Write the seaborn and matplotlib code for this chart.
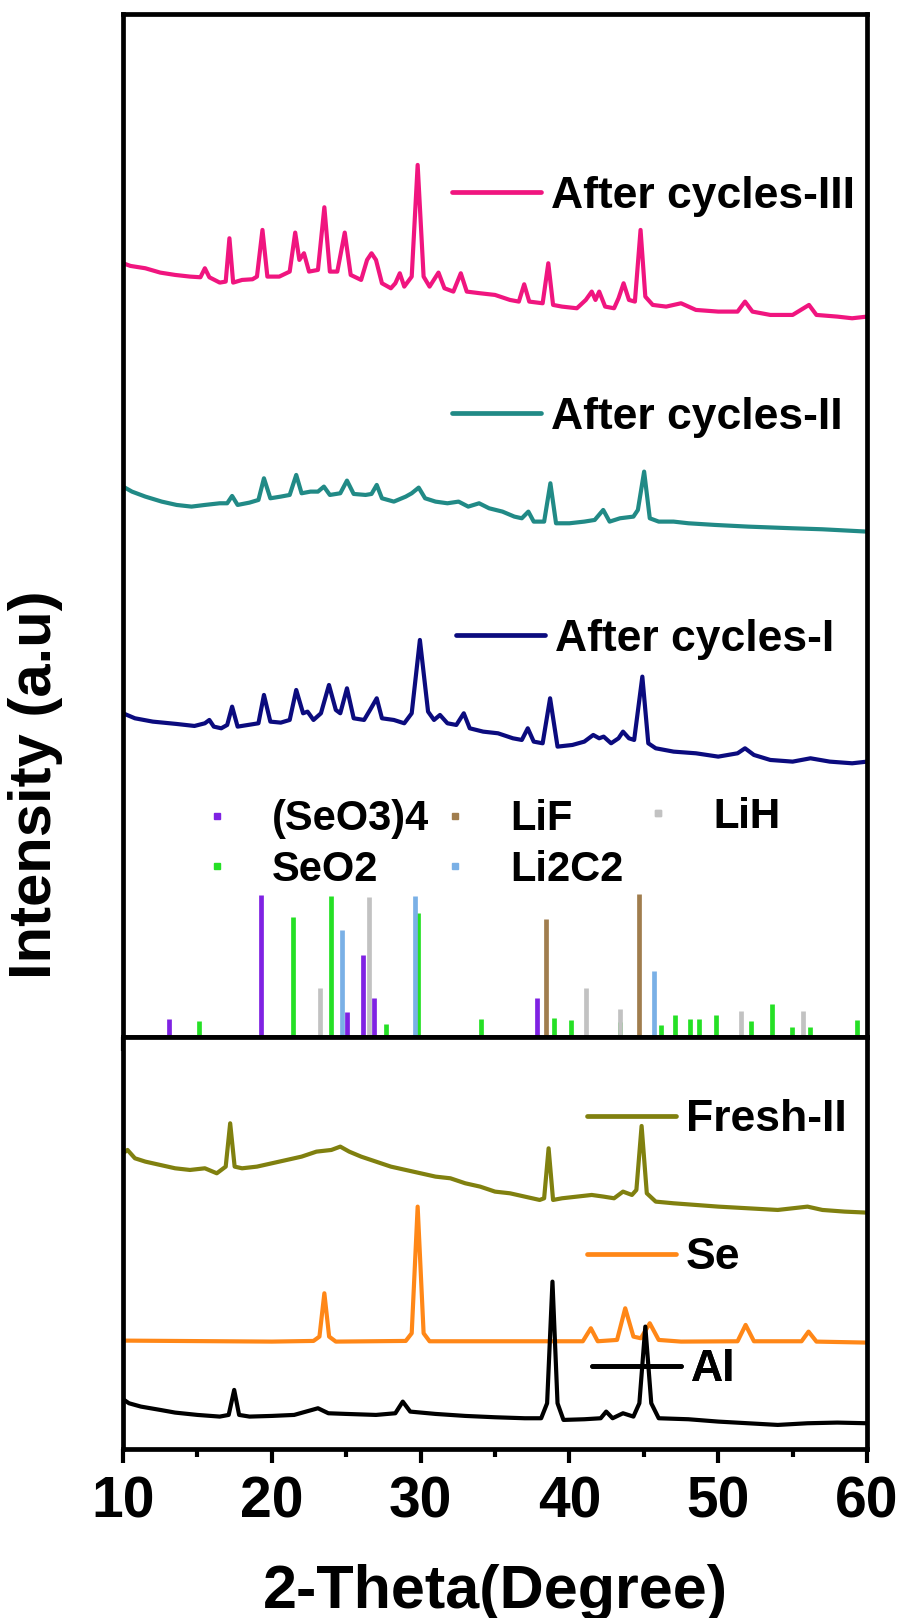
import numpy as np
import pandas as pd
import seaborn as sns
from matplotlib import pyplot as plt
from matplotlib.lines import Line2D
from matplotlib.ticker import MultipleLocator

# ---- data (2-theta in degrees, intensity in a.u.) ----
III_X = [10.0, 10.5, 11.5, 12.5, 13.5, 14.5, 15.2, 15.5, 15.8, 16.5, 16.9, 17.15, 17.4, 18.0, 18.7, 19.0,
         19.37, 19.7, 20.5, 21.2, 21.57, 21.85, 22.16, 22.5, 23.1, 23.53, 23.9, 24.4, 24.9, 25.3, 26.0, 26.4,
         26.7, 27.0, 27.4, 28.0, 28.3, 28.6, 28.9, 29.4, 29.8, 30.2, 30.6, 31.2, 31.6, 32.2, 32.7, 33.1, 34.0,
         35.0, 36.0, 36.6, 36.96, 37.3, 38.2, 38.58, 38.9, 39.5, 40.5, 41.1, 41.5, 41.75, 42.0, 42.4, 43.0,
         43.3, 43.64, 44.0, 44.4, 44.78, 45.1, 45.6, 46.5, 47.5, 48.5, 50.0, 51.3, 51.8, 52.3, 53.5, 55.0,
         56.1, 56.6, 58.0, 59.0, 60.0]
III_Y = [170, 162, 155, 142, 135, 130, 128, 155, 128, 112, 115, 245, 112, 120, 122, 130,
         270, 130, 130, 145, 262, 180, 200, 145, 150, 338, 145, 145, 262, 135, 120, 180,
         200, 180, 110, 95, 110, 140, 100, 130, 465, 130, 100, 142, 95, 85, 140, 85, 80,
         75, 60, 55, 107, 55, 50, 170, 45, 40, 35, 60, 85, 60, 85, 40, 35,
         65, 110, 60, 55, 270, 70, 45, 40, 50, 30, 25, 25, 55, 25, 15, 15,
         45, 15, 10, 5, 10]

II_X = [10.0, 10.6, 11.5, 12.6, 13.6, 14.6, 15.5, 16.5, 17.0, 17.33, 17.7, 18.5, 19.1, 19.47, 19.9, 20.6,
        21.2, 21.64, 22.0, 22.6, 23.1, 23.5, 23.9, 24.6, 25.05, 25.5, 26.3, 26.7, 27.05, 27.4, 28.2, 29.0,
        29.4, 29.87, 30.3, 31.0, 31.8, 32.55, 33.2, 33.93, 34.6, 35.5, 36.3, 36.8, 37.24, 37.6, 38.3, 38.72,
        39.1, 40.0, 41.0, 41.7, 42.27, 42.7, 43.4, 44.3, 44.6, 45.02, 45.4, 46.0, 47.0, 48.0, 49.8, 52.0,
        55.0, 57.0, 60.0]
II_Y = [150, 135, 120, 105, 95, 90, 95, 100, 100, 122, 95, 102, 110, 175, 115, 120,
        125, 185, 130, 135, 135, 150, 125, 130, 168, 128, 125, 128, 155, 115, 105, 120,
        130, 147, 115, 105, 100, 105, 90, 100, 85, 75, 60, 55, 75, 45, 45, 160,
        40, 40, 45, 50, 80, 45, 55, 60, 80, 195, 55, 45, 45, 40, 35, 30,
        25, 22, 15]

I_X = [10.0, 10.8, 12.0, 13.6, 14.8, 15.5, 15.8, 16.1, 16.6, 17.0, 17.33, 17.7, 18.4, 19.1, 19.47, 19.9,
       20.6, 21.2, 21.64, 22.1, 22.4, 22.8, 23.3, 23.84, 24.3, 24.6, 25.05, 25.5, 26.2, 26.6, 27.05, 27.4,
       28.2, 28.9, 29.4, 29.95, 30.5, 30.9, 31.3, 31.8, 32.4, 32.9, 33.3, 34.2, 35.2, 36.2, 36.8, 37.2,
       37.6, 38.2, 38.7, 39.2, 40.2, 41.0, 41.6, 42.0, 42.3, 42.8, 43.3, 43.6, 44.0, 44.35, 44.9, 45.3,
       45.8, 47.0, 48.5, 50.0, 51.3, 51.8, 52.4, 53.5, 55.0, 56.2, 57.5, 59.0, 60.0]
I_Y = [160, 145, 135, 128, 122, 130, 140, 120, 115, 125, 180, 120, 125, 130, 215, 135,
       132, 140, 230, 160, 165, 140, 160, 245, 170, 160, 235, 145, 140, 170, 205, 145,
       140, 130, 160, 380, 165, 140, 155, 130, 125, 160, 115, 105, 100, 85, 80, 115,
       75, 70, 205, 60, 65, 75, 95, 85, 90, 70, 85, 105, 85, 80, 270, 70,
       55, 45, 40, 30, 40, 55, 35, 20, 15, 25, 15, 10, 15]

FRESH_X = [10.0, 10.3, 10.8, 11.5, 12.5, 13.5, 14.5, 15.5, 16.3, 16.9, 17.2, 17.5, 18.0, 19.0, 20.0, 21.0,
           22.0, 23.0, 24.0, 24.6, 25.2, 26.0, 27.0, 28.0, 29.0, 30.0, 31.0, 32.0, 33.0, 34.0, 35.0, 36.0,
           37.0, 38.0, 38.3, 38.6, 38.9, 39.5, 40.5, 41.5, 42.3, 43.0, 43.6, 44.2, 44.5, 44.85, 45.2, 45.8,
           47.0, 48.5, 50.0, 52.0, 54.0, 56.0, 57.0, 58.5, 60.0]
FRESH_Y = [190, 200, 175, 165, 155, 145, 140, 145, 130, 150, 280, 150, 145, 150, 160, 170,
           180, 195, 200, 210, 195, 180, 165, 150, 140, 130, 120, 115, 100, 90, 75, 70,
           60, 50, 55, 205, 50, 55, 60, 65, 60, 55, 75, 65, 80, 272, 70, 45,
           40, 35, 30, 25, 20, 30, 20, 15, 12]

SE_X = [10.0, 20.0, 22.8, 23.2, 23.53, 23.85, 24.3, 29.0, 29.4, 29.8, 30.2, 30.6, 40.9, 41.44, 41.9, 43.2,
        43.75, 44.3, 44.8, 45.4, 46.0, 47.5, 51.3, 51.84, 52.4, 55.6, 56.07, 56.6, 60.0]
SE_Y = [28, 25, 27, 40, 170, 40, 25, 27, 50, 430, 50, 26, 26, 65, 26, 30,
        125, 40, 35, 80, 30, 25, 26, 75, 26, 26, 55, 25, 22]

AL_X = [10.0, 10.4, 11.2, 12.5, 13.5, 15.0, 16.5, 17.1, 17.47, 17.8, 18.5, 20.0, 21.5, 23.1, 23.8, 25.0,
        27.0, 28.3, 28.8, 29.3, 31.0, 33.0, 35.0, 37.0, 38.1, 38.5, 38.86, 39.2, 39.6, 41.0, 42.1, 42.47,
        42.9, 43.6, 44.3, 44.7, 45.1, 45.5, 46.0, 48.0, 50.0, 52.0, 54.0, 56.0, 58.0, 60.0]
AL_Y = [102, 90, 80, 70, 62, 55, 50, 55, 130, 55, 50, 52, 55, 75, 60, 58,
        55, 60, 95, 65, 58, 52, 48, 45, 45, 90, 455, 90, 40, 42, 45, 65,
        45, 60, 50, 90, 320, 90, 45, 42, 35, 30, 25, 30, 32, 30]

# reference patterns (stick positions and relative heights)
SEO3_POS = [13.1, 19.26, 25.08, 26.15, 26.84, 37.82]
SEO3_INT = [53, 427, 75, 247, 117, 117]
SEO2_POS = [15.1, 21.4, 23.95, 27.7, 29.83, 34.03, 38.96, 40.13, 43.4, 46.16, 47.12, 48.12, 48.74,
            49.88, 52.2, 53.63, 54.97, 56.18, 59.34]
SEO2_INT = [47, 360, 422, 40, 373, 53, 57, 50, 45, 37, 67, 55, 55, 65, 47, 100, 30, 30, 50]
LIF_POS = [38.44, 44.67]
LIF_INT = [353, 430]
LIH_POS = [23.26, 26.5, 41.13, 43.43, 51.5, 55.7]
LIH_INT = [147, 420, 147, 85, 77, 77]
LI2C2_POS = [24.7, 29.59, 45.7]
LI2C2_INT = [322, 422, 197]

INK = "#000000"
COLORS = {
    "After cycles-III": "#F0157F",
    "After cycles-II": "#218A86",
    "After cycles-I": "#0B0B7E",
    "Fresh-II": "#80800F",
    "Se": "#FF8717",
    "Al": "#000000",
}
STICK_COLORS = {
    "(SeO3)4": "#7F22E3",
    "SeO2": "#25E025",
    "LiF": "#A07D4E",
    "LiH": "#C2C2C2",
    "Li2C2": "#7AB0E6",
}

FONT = ["Liberation Sans", "DejaVu Sans"]

sns.set_theme(style="ticks")
plt.rcParams.update({
    "font.family": FONT,
    "font.weight": "bold",
    "text.color": INK,
    "axes.labelcolor": INK,
    "axes.linewidth": 3.4,
    "xtick.major.width": 3.0,
    "xtick.minor.width": 3.0,
    "xtick.major.size": 10,
    "xtick.minor.size": 6,
    "xtick.color": INK,
    "xtick.labelcolor": INK,
    "axes.edgecolor": INK,
})

fig = plt.figure(figsize=(9.04, 16.18), dpi=100)
ax_top = fig.add_axes([0.1361, 0.3591, 0.823, 0.6323])
ax_bot = fig.add_axes([0.1361, 0.1045, 0.823, 0.2546])

offsets_top = {"After cycles-III": 2151, "After cycles-II": 1501, "After cycles-I": 811}
offsets_bot = {"Fresh-II": 697, "Se": 297, "Al": 47}

top_curves = {
    "After cycles-III": (III_X, III_Y),
    "After cycles-II": (II_X, II_Y),
    "After cycles-I": (I_X, I_Y),
}
bot_curves = {
    "Fresh-II": (FRESH_X, FRESH_Y),
    "Se": (SE_X, SE_Y),
    "Al": (AL_X, AL_Y),
}

for ax, curves, offsets in [(ax_top, top_curves, offsets_top), (ax_bot, bot_curves, offsets_bot)]:
    for name, (xs, ys) in curves.items():
        df = pd.DataFrame({"two_theta": xs, "intensity": np.array(ys) + offsets[name]})
        sns.lineplot(data=df, x="two_theta", y="intensity", ax=ax, color=COLORS[name],
                     linewidth=3.0, estimator=None, sort=False, legend=False)

sticks = {
    "(SeO3)4": (SEO3_POS, SEO3_INT),
    "SeO2": (SEO2_POS, SEO2_INT),
    "LiF": (LIF_POS, LIF_INT),
    "LiH": (LIH_POS, LIH_INT),
    "Li2C2": (LI2C2_POS, LI2C2_INT),
}
for name, (pos, hts) in sticks.items():
    ax_top.vlines(pos, 0, hts, color=STICK_COLORS[name], linewidth=3.4)

for ax in (ax_top, ax_bot):
    ax.set_xlim(10, 60)
    ax.xaxis.set_major_locator(MultipleLocator(10))
    ax.xaxis.set_minor_locator(MultipleLocator(5))
    ax.tick_params(axis="x", which="both", direction="out", bottom=True, top=False)
    ax.set_yticks([])
    ax.set_xlabel("")
    ax.set_ylabel("")
    for side in ["top", "bottom", "left", "right"]:
        ax.spines[side].set_visible(True)
        ax.spines[side].set_linewidth(3.4)

ax_top.set_ylim(0, 3069)
ax_bot.set_ylim(0, 1236)
ax_top.tick_params(axis="x", labelbottom=False)
ax_bot.tick_params(axis="x", labelsize=41, pad=9)
for lab in ax_bot.get_xticklabels():
    lab.set_fontweight("bold")

# curve legends, one per trace
curve_legends = [
    (ax_top, "After cycles-III", 0.442, 0.822),
    (ax_top, "After cycles-II", 0.442, 0.606),
    (ax_top, "After cycles-I", 0.448, 0.389),
    (ax_bot, "Fresh-II", 0.624, 0.799),
    (ax_bot, "Se", 0.624, 0.464),
    (ax_bot, "Al", 0.630, 0.192),
]
for ax, name, lx, ly in curve_legends:
    handle = Line2D([], [], color=COLORS[name], linewidth=3.4)
    leg = ax.legend([handle], [name], loc="center left", bbox_to_anchor=(lx, ly),
                    frameon=False, borderpad=0, borderaxespad=0, handlelength=2.0,
                    handletextpad=0.22, prop={"family": FONT, "weight": "bold", "size": 32})
    ax.add_artist(leg)

# stick pattern legend, three columns
stick_cols = [
    (["(SeO3)4", "SeO2"], 0.098, 0.188),
    (["LiF", "Li2C2"], 0.418, 0.188),
    (["LiH"], 0.691, 0.215),
]
for names, lx, ly in stick_cols:
    handles = [Line2D([], [], color=STICK_COLORS[n], marker="s", markersize=4, linestyle="none")
               for n in names]
    leg = ax_top.legend(handles, names, loc="center left", bbox_to_anchor=(lx, ly), frameon=False,
                        borderpad=0, borderaxespad=0, handlelength=1.0, handletextpad=0.82,
                        labelspacing=0.25, numpoints=1,
                        prop={"family": FONT, "weight": "bold", "size": 30})
    ax_top.add_artist(leg)

fig.text(0.039, 0.515, "Intensity (a.u)", rotation=90, ha="center", va="center",
         fontsize=43, fontweight="bold", family=FONT)
fig.text(0.5476, 0.016, "2-Theta(Degree)", ha="center", va="center",
         fontsize=44, fontweight="bold", family=FONT)

fig.savefig("out.png", dpi=100, facecolor="white")
